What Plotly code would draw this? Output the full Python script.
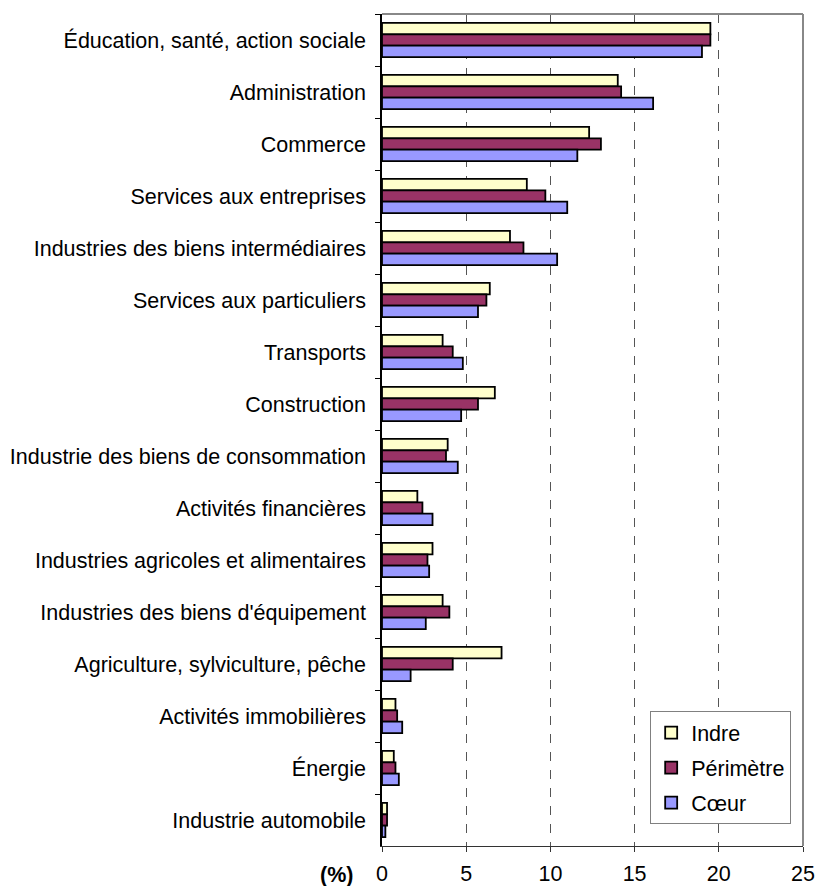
import plotly.graph_objects as go

categories = [
    "Éducation, santé, action sociale",
    "Administration",
    "Commerce",
    "Services aux entreprises",
    "Industries des biens intermédiaires",
    "Services aux particuliers",
    "Transports",
    "Construction",
    "Industrie des biens de consommation",
    "Activités financières",
    "Industries agricoles et alimentaires",
    "Industries des biens d'équipement",
    "Agriculture, sylviculture, pêche",
    "Activités immobilières",
    "Énergie",
    "Industrie automobile",
]

indre =     [19.5, 14.0, 12.3, 8.6, 7.6, 6.4, 3.6, 6.7, 3.9, 2.1, 3.0, 3.6, 7.1, 0.8, 0.7, 0.3]
perimetre = [19.5, 14.2, 13.0, 9.7, 8.4, 6.2, 4.2, 5.7, 3.8, 2.4, 2.7, 4.0, 4.2, 0.9, 0.8, 0.3]
coeur =     [19.0, 16.1, 11.6, 11.0, 10.4, 5.7, 4.8, 4.7, 4.5, 3.0, 2.8, 2.6, 1.7, 1.2, 1.0, 0.2]

series_names = ["Indre", "Périmètre", "Cœur"]
series_colors = ["#FFFFCC", "#993366", "#9999FF"]
x_ticks = [0, 5, 10, 15, 20, 25]

fig = go.Figure()
for name, vals, col in zip(series_names, [indre, perimetre, coeur], series_colors):
    fig.add_trace(go.Bar(
        y=categories, x=vals, name=name, orientation="h",
        marker=dict(color=col, line=dict(color="black", width=1.8)),
        legendgroup=name,
    ))

font = "Liberation Sans, Arial, sans-serif"
fig.update_layout(
    width=816, height=886,
    margin=dict(l=382, r=13, t=14, b=40),
    paper_bgcolor="white", plot_bgcolor="white",
    barmode="group", bargap=0.34, bargroupgap=0,
    font=dict(family=font, size=21.5, color="black"),
    legend=dict(
        x=0.637, y=0.162, xanchor="left", yanchor="top",
        bordercolor="#808080", borderwidth=1, bgcolor="white",
        font=dict(size=21.5), tracegroupgap=4, itemwidth=30,
    ),
    xaxis=dict(
        range=[0, 25], tickvals=x_ticks, ticktext=[str(v) for v in x_ticks],
        showgrid=True, gridcolor="#555555", griddash="dash", gridwidth=1,
        showline=True, linecolor="#333333", linewidth=1,
        ticks="outside", ticklen=5, tickcolor="#333333",
        ticklabelstandoff=3, automargin=False,
        zeroline=False, fixedrange=True,
    ),
    yaxis=dict(
        categoryorder="array", categoryarray=categories, autorange="reversed",
        showline=True, linecolor="black", linewidth=1.5,
        ticks="outside", ticklen=5, tickcolor="black", tickson="boundaries",
        ticklabelstandoff=10, showgrid=False, automargin=False,
    ),
    shapes=[
        dict(type="line", xref="paper", yref="paper", x0=0, x1=1, y0=1, y1=1,
             line=dict(color="#888888", width=2)),
        dict(type="line", xref="paper", yref="paper", x0=1, x1=1, y0=0, y1=1,
             line=dict(color="#888888", width=2)),
    ],
    annotations=[
        dict(text="<b>(%)</b>", xref="paper", yref="paper", x=-0.064, y=0,
             xanchor="right", yanchor="middle", yshift=-29, showarrow=False,
             font=dict(size=21.5)),
    ],
)

fig.write_html(
    "out.html",
    config={"displayModeBar": False},
    post_script="document.body.style.margin='0';document.body.style.overflow='hidden';",
)
